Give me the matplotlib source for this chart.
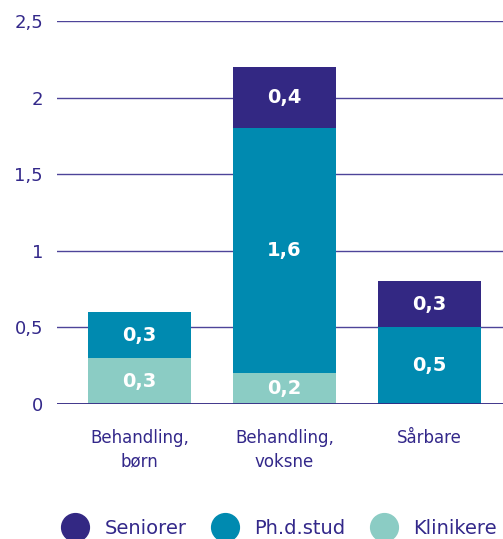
import numpy as np
import matplotlib.pyplot as plt
from matplotlib.lines import Line2D

categories = ["Behandling,\nbørn", "Behandling,\nvoksne", "Sårbare"]
klinikere = [0.3, 0.2, 0.0]
phd_stud = [0.3, 1.6, 0.5]
seniorer = [0.0, 0.4, 0.3]
yticks = [0, 0.5, 1, 1.5, 2, 2.5]
ytick_labels = ["0", "0,5", "1", "1,5", "2", "2,5"]

series = [("Klinikere", klinikere, "#8bccc4"),
          ("Ph.d.stud", phd_stud, "#008ab0"),
          ("Seniorer", seniorer, "#332883")]
text_col = "#33288a"

fig = plt.figure(figsize=(5.03, 5.39), dpi=100)
ax = fig.add_axes([57 / 503, 135 / 539, 446 / 503, 383 / 539])

x = np.arange(len(categories))
bottom = np.zeros(len(categories))
for name, vals, col in series:
    vals = np.array(vals)
    ax.bar(x, vals, width=0.71, bottom=bottom, color=col, zorder=3)
    for xi, b, v in zip(x, bottom, vals):
        if v > 0:
            ax.text(xi, b + v / 2, f"{v:.1f}".replace(".", ","), ha="center", va="center",
                    color="white", fontsize=14, fontweight="bold", zorder=4)
    bottom += vals

ax.set_xlim(-0.569, 2.507)
ax.set_ylim(0, 2.5)
ax.set_yticks(yticks)
ax.set_yticklabels(ytick_labels)
ax.set_xticks(x)
ax.set_xticklabels(categories, linespacing=1.4)
ax.yaxis.grid(True, color="#4e4499", linewidth=1.0, zorder=1)
ax.axhline(0, color="#332883", linewidth=2, zorder=5)
for s in ax.spines.values():
    s.set_visible(False)
ax.tick_params(axis="y", length=0, pad=10, labelsize=13, labelcolor=text_col)
ax.tick_params(axis="x", length=0, pad=18, labelsize=12, labelcolor=text_col)

handles = [Line2D([], [], marker="o", linestyle="", markersize=20, color=c)
           for _, _, c in series[::-1]]
labels = [n for n, _, _ in series[::-1]]
leg = fig.legend(handles, labels, loc="center left", bbox_to_anchor=(61.6 / 503, 11 / 539),
                 ncol=3, frameon=False, fontsize=14, handlelength=1.4, handletextpad=0.8,
                 columnspacing=1.3, borderpad=0, borderaxespad=0)
for t in leg.get_texts():
    t.set_color(text_col)

fig.savefig("out.png", dpi=100)
